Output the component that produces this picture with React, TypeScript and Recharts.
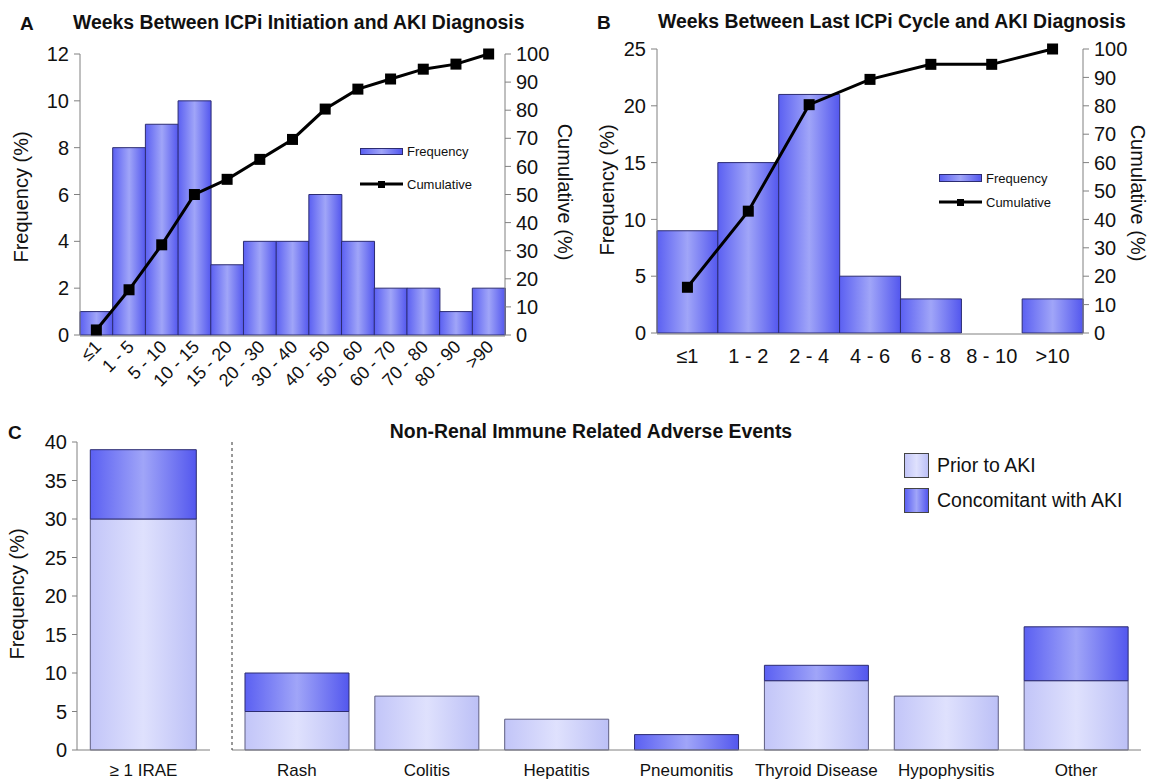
import React from 'react';
import { ComposedChart, BarChart, Bar, Line, XAxis, YAxis, Legend } from 'recharts';

const FONT = '"Liberation Sans", Arial, Helvetica, sans-serif';

// Panel A
const catsA = ['≤1', '1 - 5', '5 - 10', '10 - 15', '15 - 20', '20 - 30', '30 - 40', '40 - 50', '50 - 60', '60 - 70', '70 - 80', '80 - 90', '>90'];
const freqA = [1, 8, 9, 10, 3, 4, 4, 6, 4, 2, 2, 1, 2];
const cumA = [1.8, 16.1, 32.1, 50, 55.4, 62.5, 69.6, 80.4, 87.5, 91.1, 94.6, 96.4, 100];
const ticksFreqA = [0, 2, 4, 6, 8, 10, 12];

// Panel B
const catsB = ['≤1', '1 - 2', '2 - 4', '4 - 6', '6 - 8', '8 - 10', '>10'];
const freqB = [9, 15, 21, 5, 3, 0, 3];
const cumB = [16.1, 42.9, 80.4, 89.3, 94.6, 94.6, 100];
const ticksFreqB = [0, 5, 10, 15, 20, 25];

const ticksCum = [0, 10, 20, 30, 40, 50, 60, 70, 80, 90, 100];

// Panel C
const overallCats = ['≥ 1 IRAE'];
const overallPrior = [30];
const overallConc = [9];
const eventCats = ['Rash', 'Colitis', 'Hepatitis', 'Pneumonitis', 'Thyroid Disease', 'Hypophysitis', 'Other'];
const eventPrior = [5, 7, 4, 0, 9, 7, 9];
const eventConc = [5, 0, 0, 2, 2, 0, 7];
const ticksC = [0, 5, 10, 15, 20, 25, 30, 35, 40];

const dataA = catsA.map((c, i) => ({ cat: c, freq: freqA[i], cum: cumA[i] }));
const dataB = catsB.map((c, i) => ({ cat: c, freq: freqB[i], cum: cumB[i] }));
const dataC1 = overallCats.map((c, i) => ({ cat: c, prior: overallPrior[i], conc: overallConc[i] }));
const dataC2 = eventCats.map((c, i) => ({ cat: c, prior: eventPrior[i], conc: eventConc[i] }));
const edgesA = catsA.map((_, i) => i).concat([catsA.length]);
const edgesB = catsB.map((_, i) => i).concat([catsB.length]);

const AXIS = '#808080';
const TXT = '#111';
const DARK_STROKE = '#2c2c72';
const LIGHT_STROKE = '#5e5e82';
const darkCss = 'linear-gradient(to right, #5b60f2, #a0a5f8 50%, #5357ee)';
const lightCss = 'linear-gradient(to right, #c2c5f8, #dfe1fd 50%, #bcc0f6)';

const Grad = ({ id, kind }: { id: string; kind: 'dark' | 'light' }) =>
  kind === 'dark' ? (
    <linearGradient id={id} x1="0" y1="0" x2="1" y2="0">
      <stop offset="0" stopColor="#5b60f2" />
      <stop offset="0.5" stopColor="#a0a5f8" />
      <stop offset="1" stopColor="#5357ee" />
    </linearGradient>
  ) : (
    <linearGradient id={id} x1="0" y1="0" x2="1" y2="0">
      <stop offset="0" stopColor="#c2c5f8" />
      <stop offset="0.5" stopColor="#dfe1fd" />
      <stop offset="1" stopColor="#bcc0f6" />
    </linearGradient>
  );

const SquareDot = (props: any) => {
  const { cx, cy, index } = props;
  if (cx == null || cy == null) return <g key={`e${index}`} />;
  return <rect key={`d${index}`} x={cx - 5.5} y={cy - 5.5} width={11} height={11} fill="#000" />;
};

const RotTick = (props: any) => {
  const { x, y, payload } = props;
  const ax = x + 6;
  const ay = y + 13;
  return (
    <text x={ax} y={ay} transform={`rotate(-45, ${ax}, ${ay})`} textAnchor="end" fontSize={18} fill={TXT}>
      {payload.value}
    </text>
  );
};

const HistLegend = ({ gap, swH }: { gap: number; swH: number }) => (
  <div style={{ fontFamily: FONT, fontSize: 13, color: TXT }}>
    <div style={{ display: 'flex', alignItems: 'center', height: 14 }}>
      <div style={{ width: 43, height: swH, background: darkCss, border: `1px solid ${DARK_STROKE}`, boxSizing: 'border-box' }} />
      <span style={{ marginLeft: 4 }}>Frequency</span>
    </div>
    <div style={{ display: 'flex', alignItems: 'center', height: 14, marginTop: gap - 14 }}>
      <svg width={43} height={10} style={{ display: 'block' }}>
        <line x1={0} y1={5} x2={43} y2={5} stroke="#000" strokeWidth={3} />
        <rect x={18} y={2} width={7} height={7} fill="#000" />
      </svg>
      <span style={{ marginLeft: 4 }}>Cumulative</span>
    </div>
  </div>
);

const CLegend = () => (
  <div style={{ fontFamily: FONT, fontSize: 19.5, color: TXT }}>
    <div style={{ display: 'flex', alignItems: 'center', height: 25 }}>
      <div style={{ width: 25, height: 25, background: lightCss, border: '1px solid #444', boxSizing: 'border-box' }} />
      <span style={{ marginLeft: 8 }}>Prior to AKI</span>
    </div>
    <div style={{ display: 'flex', alignItems: 'center', height: 25, marginTop: 10 }}>
      <div style={{ width: 25, height: 25, background: darkCss, border: '1px solid #444', boxSizing: 'border-box' }} />
      <span style={{ marginLeft: 8 }}>Concomitant with AKI</span>
    </div>
  </div>
);

const Txt = ({ x, y, text, size, bold, angle, center }: any) => (
  <div
    style={{
      position: 'absolute',
      left: x,
      top: y,
      fontSize: size,
      fontWeight: bold ? 'bold' : 'normal',
      lineHeight: '1',
      whiteSpace: 'nowrap',
      color: TXT,
      transform: `translate(${center ? '-50%' : '0'}, -50%) rotate(${angle || 0}deg)`,
    }}
  >
    {text}
  </div>
);

const Abs = ({ left, top, children }: any) => (
  <div style={{ position: 'absolute', left, top }}>{children}</div>
);

export default function App() {
  const yTick = { fontSize: 20, fill: TXT };
  return (
    <div style={{ position: 'absolute', left: 0, top: 0, width: 1151, height: 780, background: '#fff', fontFamily: FONT, overflow: 'hidden' }}>
      {/* Panel A */}
      <Abs left={0} top={0}>
        <ComposedChart width={600} height={410} data={dataA} margin={{ top: 54, right: 0, bottom: 73, left: 0 }} barCategoryGap={0}>
          <defs>
            <Grad id="gA" kind="dark" />
          </defs>
          <XAxis xAxisId="edge" type="number" domain={[0, catsA.length]} ticks={edgesA} interval={0} allowDataOverflow height={1}
            tick={false} tickSize={6} tickLine={{ stroke: AXIS }} axisLine={{ stroke: AXIS }} />
          <XAxis xAxisId="cat" dataKey="cat" height={1} interval={0} axisLine={false} tickLine={false} tickSize={0} tickMargin={0} tick={<RotTick />} />
          <YAxis yAxisId="left" width={80} domain={[0, 12]} ticks={ticksFreqA} interval={0} tick={yTick} tickSize={6} tickMargin={5}
            tickLine={{ stroke: AXIS }} axisLine={{ stroke: AXIS }} />
          <YAxis yAxisId="right" orientation="right" width={95} domain={[0, 100]} ticks={ticksCum} interval={0} tick={yTick} tickSize={6} tickMargin={5}
            tickLine={{ stroke: AXIS }} axisLine={{ stroke: AXIS }} />
          <Bar xAxisId="cat" yAxisId="left" dataKey="freq" fill="url(#gA)" stroke={DARK_STROKE} strokeWidth={1} isAnimationActive={false} />
          <Line xAxisId="cat" yAxisId="right" dataKey="cum" stroke="#000" strokeWidth={3} dot={SquareDot} activeDot={false} isAnimationActive={false} />
          <Legend layout="vertical" align="center" verticalAlign="middle" wrapperStyle={{ left: 360, top: 144 }}
            content={() => <HistLegend gap={33} swH={7} />} />
        </ComposedChart>
      </Abs>

      {/* Panel B */}
      <Abs left={580} top={0}>
        <ComposedChart width={571} height={410} data={dataB} margin={{ top: 49, right: 0, bottom: 75, left: 0 }} barCategoryGap={0}>
          <defs>
            <Grad id="gB" kind="dark" />
          </defs>
          <XAxis xAxisId="edge" type="number" domain={[0, catsB.length]} ticks={edgesB} interval={0} allowDataOverflow height={1}
            tick={false} tickSize={6} tickLine={{ stroke: AXIS }} axisLine={{ stroke: AXIS }} />
          <XAxis xAxisId="cat" dataKey="cat" height={1} interval={0} axisLine={false} tickLine={false} tickSize={0} tickMargin={16}
            tick={{ fontSize: 20, fill: TXT }} />
          <YAxis yAxisId="left" width={77} domain={[0, 25]} ticks={ticksFreqB} interval={0} tick={yTick} tickSize={6} tickMargin={5}
            tickLine={{ stroke: AXIS }} axisLine={{ stroke: AXIS }} />
          <YAxis yAxisId="right" orientation="right" width={68} domain={[0, 100]} ticks={ticksCum} interval={0} tick={yTick} tickSize={6} tickMargin={5}
            tickLine={{ stroke: AXIS }} axisLine={{ stroke: AXIS }} />
          <Bar xAxisId="cat" yAxisId="left" dataKey="freq" fill="url(#gB)" stroke={DARK_STROKE} strokeWidth={1} isAnimationActive={false} />
          <Line xAxisId="cat" yAxisId="right" dataKey="cum" stroke="#000" strokeWidth={3} dot={SquareDot} activeDot={false} isAnimationActive={false} />
          <Legend layout="vertical" align="center" verticalAlign="middle" wrapperStyle={{ left: 359, top: 171 }}
            content={() => <HistLegend gap={24} swH={8} />} />
        </ComposedChart>
      </Abs>

      {/* Panel C: overall */}
      <Abs left={0} top={420}>
        <BarChart width={215} height={360} data={dataC1} margin={{ top: 22, right: 5, bottom: 0, left: 0 }} barCategoryGap="10%">
          <defs>
            <Grad id="gC1d" kind="dark" />
            <Grad id="gC1l" kind="light" />
          </defs>
          <XAxis dataKey="cat" height={30} interval={0} axisLine={{ stroke: AXIS }} tickLine={false} tickSize={0} tickMargin={14}
            tick={{ fontSize: 17, fill: TXT }} />
          <YAxis width={77} domain={[0, 40]} ticks={ticksC} interval={0} tick={yTick} tickSize={5} tickMargin={5}
            tickLine={{ stroke: AXIS }} axisLine={{ stroke: AXIS }} />
          <Bar dataKey="prior" stackId="s" fill="url(#gC1l)" stroke={LIGHT_STROKE} strokeWidth={1} isAnimationActive={false} />
          <Bar dataKey="conc" stackId="s" fill="url(#gC1d)" stroke={DARK_STROKE} strokeWidth={1} isAnimationActive={false} />
        </BarChart>
      </Abs>

      {/* Panel C: individual events */}
      <Abs left={215} top={420}>
        <BarChart width={936} height={360} data={dataC2} margin={{ top: 22, right: 10, bottom: 0, left: 16 }} barCategoryGap="10%">
          <defs>
            <Grad id="gC2d" kind="dark" />
            <Grad id="gC2l" kind="light" />
          </defs>
          <XAxis dataKey="cat" height={30} interval={0} axisLine={{ stroke: AXIS }} tickLine={false} tickSize={0} tickMargin={14}
            tick={{ fontSize: 17, fill: TXT }} />
          <YAxis width={1} domain={[0, 40]} ticks={ticksC} interval={0} tick={false} tickLine={false}
            axisLine={{ stroke: '#333', strokeDasharray: '3 3' }} />
          <Bar dataKey="prior" stackId="s" fill="url(#gC2l)" stroke={LIGHT_STROKE} strokeWidth={1} isAnimationActive={false} />
          <Bar dataKey="conc" stackId="s" fill="url(#gC2d)" stroke={DARK_STROKE} strokeWidth={1} isAnimationActive={false} />
          <Legend layout="vertical" align="center" verticalAlign="middle" wrapperStyle={{ left: 689, top: 33 }} content={() => <CLegend />} />
        </BarChart>
      </Abs>

      {/* Titles and axis titles */}
      <Txt x={20} y={23} text="A" size={19} bold />
      <Txt x={73} y={23} text="Weeks Between ICPi Initiation and AKI Diagnosis" size={19.4} bold />
      <Txt x={597} y={22} text="B" size={19} bold />
      <Txt x={658} y={22} text="Weeks Between Last ICPi Cycle and AKI Diagnosis" size={19.4} bold />
      <Txt x={8} y={432} text="C" size={19} bold />
      <Txt x={591} y={432} text="Non-Renal Immune Related Adverse Events" size={19.4} bold center />

      <Txt x={21} y={197} text="Frequency (%)" size={20} angle={-90} center />
      <Txt x={565} y={192} text="Cumulative (%)" size={20} angle={90} center />
      <Txt x={607} y={190} text="Frequency (%)" size={20} angle={-90} center />
      <Txt x={1138} y={193} text="Cumulative (%)" size={20} angle={90} center />
      <Txt x={17} y={594} text="Frequency (%)" size={20} angle={-90} center />
    </div>
  );
}
